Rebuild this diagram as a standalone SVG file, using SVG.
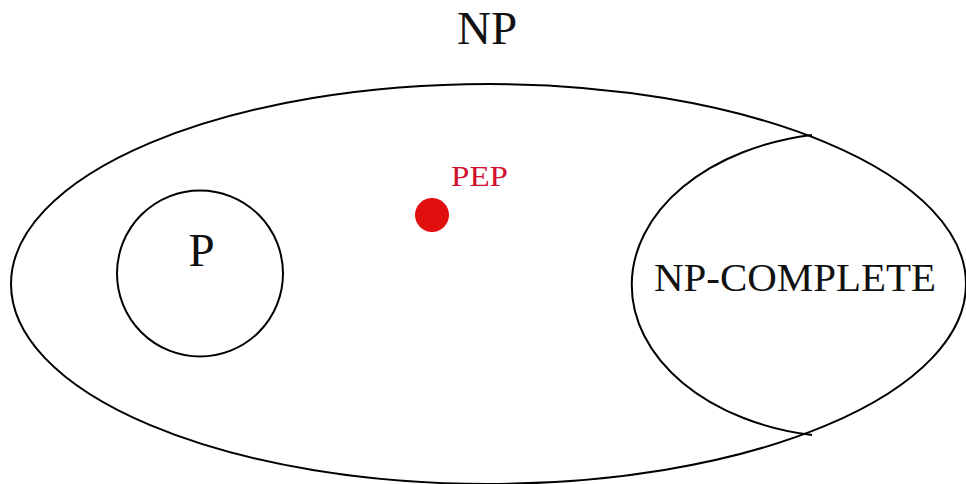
<svg xmlns="http://www.w3.org/2000/svg" width="966" height="484" viewBox="0 0 966 484">
<style>
.ln{fill:none;stroke:#000;stroke-width:2}
.t{font-family:"Liberation Serif","DejaVu Serif",serif;fill:#111;text-anchor:middle}
</style>
<rect width="966" height="484" fill="#fff"/>
<g id="np">
<ellipse class="ln" cx="488.5" cy="284" rx="477.5" ry="200"/>
<text class="t" x="487" y="44" font-size="47">NP</text>
</g>
<g id="p">
<circle class="ln" cx="200" cy="273.5" r="83"/>
<text class="t" x="201.5" y="266" font-size="47">P</text>
</g>
<g id="npc">
<path class="ln" d="M812 135 A218 152.3 0 0 0 812 435"/>
<text class="t" x="795" y="291" font-size="40" textLength="282" lengthAdjust="spacingAndGlyphs">NP-COMPLETE</text>
</g>
<g id="pep">
<circle cx="432" cy="215" r="17" fill="#e20f0f"/>
<text class="t" x="479.5" y="186" font-size="30" style="fill:#d01030" textLength="57" lengthAdjust="spacingAndGlyphs">PEP</text>
</g>
<g id="connectors"/>
</svg>
